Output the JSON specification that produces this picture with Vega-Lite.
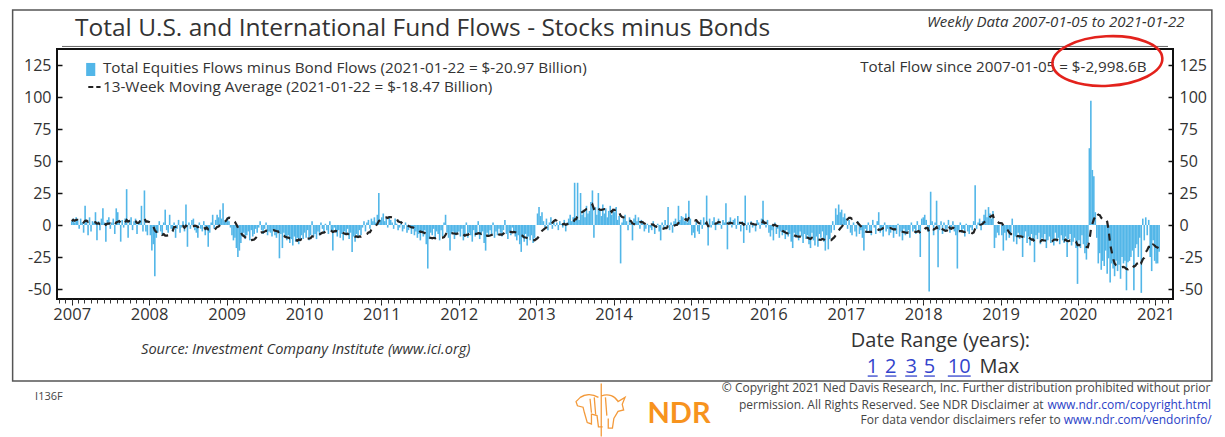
{
"$schema": "https://vega.github.io/schema/vega-lite/v6.json",
"width": 1116, "height": 250,
"autosize": {"type": "none"},
"padding": {"left": 57, "top": 49, "right": 52, "bottom": 138},
"background": "white",
"title": {"text": "Total U.S. and International Fund Flows - Stocks minus Bonds", "anchor": "start", "frame": "group", "dx": 18, "dy": 25, "offset": -26, "baseline": "alphabetic", "fontSize": 24.5, "font": "Open Sans", "fontWeight": "normal", "color": "#333"},
"config": {"view": {"stroke": "#111", "strokeWidth": 2}, "font": "Open Sans"},
"data": {"format": {"parse": {"d": "date:'%Y-%W'"}}, "values": [
{"d":"2007-1","f":3},{"d":"2007-2","f":5},{"d":"2007-3","f":2},{"d":"2007-4","f":6},{"d":"2007-5","f":4},{"d":"2007-6","f":-3},{"d":"2007-7","f":5},{"d":"2007-8","f":2},{"d":"2007-9","f":-6},{"d":"2007-10","f":15},{"d":"2007-11","f":4},{"d":"2007-12","f":-8},{"d":"2007-13","f":6},{"d":"2007-14","f":-5},{"d":"2007-15","f":3},{"d":"2007-16","f":2},{"d":"2007-17","f":10},{"d":"2007-18","f":-12},{"d":"2007-19","f":3},{"d":"2007-20","f":-4},{"d":"2007-21","f":5},{"d":"2007-22","f":13},{"d":"2007-23","f":2},{"d":"2007-24","f":-13},{"d":"2007-25","f":4},{"d":"2007-26","f":6},{"d":"2007-27","f":-3},{"d":"2007-28","f":2},{"d":"2007-29","f":5},{"d":"2007-30","f":-7},{"d":"2007-31","f":13},{"d":"2007-32","f":10},{"d":"2007-33","f":3},{"d":"2007-34","f":-13},{"d":"2007-35","f":4},{"d":"2007-36","f":-2},{"d":"2007-37","f":5},{"d":"2007-38","f":28},{"d":"2007-39","f":-10},{"d":"2007-40","f":4},{"d":"2007-41","f":6},{"d":"2007-42","f":-4},{"d":"2007-43","f":3},{"d":"2007-44","f":5},{"d":"2007-45","f":-7},{"d":"2007-46","f":2},{"d":"2007-47","f":4},{"d":"2007-48","f":15},{"d":"2007-49","f":-5},{"d":"2007-50","f":27},{"d":"2007-51","f":-5},{"d":"2007-52","f":-8},
{"d":"2008-1","f":-8},{"d":"2008-2","f":-20},{"d":"2008-3","f":-15},{"d":"2008-4","f":-40},{"d":"2008-5","f":-10},{"d":"2008-6","f":-6},{"d":"2008-7","f":3},{"d":"2008-8","f":-5},{"d":"2008-9","f":-8},{"d":"2008-10","f":2},{"d":"2008-11","f":12},{"d":"2008-12","f":-4},{"d":"2008-13","f":-6},{"d":"2008-14","f":8},{"d":"2008-15","f":-3},{"d":"2008-16","f":-5},{"d":"2008-17","f":2},{"d":"2008-18","f":-10},{"d":"2008-19","f":-3},{"d":"2008-20","f":4},{"d":"2008-21","f":-6},{"d":"2008-22","f":-2},{"d":"2008-23","f":3},{"d":"2008-24","f":-5},{"d":"2008-25","f":16},{"d":"2008-26","f":-17},{"d":"2008-27","f":2},{"d":"2008-28","f":-3},{"d":"2008-29","f":4},{"d":"2008-30","f":5},{"d":"2008-31","f":-4},{"d":"2008-32","f":-6},{"d":"2008-33","f":-10},{"d":"2008-34","f":2},{"d":"2008-35","f":-3},{"d":"2008-36","f":-5},{"d":"2008-37","f":3},{"d":"2008-38","f":-8},{"d":"2008-39","f":-4},{"d":"2008-40","f":-17},{"d":"2008-41","f":-6},{"d":"2008-42","f":2},{"d":"2008-43","f":8},{"d":"2008-44","f":-3},{"d":"2008-45","f":4},{"d":"2008-46","f":8},{"d":"2008-47","f":6},{"d":"2008-48","f":12},{"d":"2008-49","f":5},{"d":"2008-50","f":17},{"d":"2008-51","f":3},{"d":"2008-52","f":4},
{"d":"2009-1","f":6},{"d":"2009-2","f":3},{"d":"2009-3","f":-2},{"d":"2009-4","f":-8},{"d":"2009-5","f":-12},{"d":"2009-6","f":-10},{"d":"2009-7","f":-18},{"d":"2009-8","f":-25},{"d":"2009-9","f":-20},{"d":"2009-10","f":-14},{"d":"2009-11","f":-9},{"d":"2009-12","f":-6},{"d":"2009-13","f":-11},{"d":"2009-14","f":-8},{"d":"2009-15","f":-5},{"d":"2009-16","f":-12},{"d":"2009-17","f":-4},{"d":"2009-18","f":-9},{"d":"2009-19","f":-7},{"d":"2009-20","f":-3},{"d":"2009-21","f":-6},{"d":"2009-22","f":-2},{"d":"2009-23","f":3},{"d":"2009-24","f":-4},{"d":"2009-25","f":-7},{"d":"2009-26","f":-3},{"d":"2009-27","f":2},{"d":"2009-28","f":-8},{"d":"2009-29","f":-5},{"d":"2009-30","f":-6},{"d":"2009-31","f":-9},{"d":"2009-32","f":-4},{"d":"2009-33","f":-8},{"d":"2009-34","f":-10},{"d":"2009-35","f":-5},{"d":"2009-36","f":-26},{"d":"2009-37","f":-7},{"d":"2009-38","f":-18},{"d":"2009-39","f":-6},{"d":"2009-40","f":-9},{"d":"2009-41","f":-12},{"d":"2009-42","f":-8},{"d":"2009-43","f":-14},{"d":"2009-44","f":-11},{"d":"2009-45","f":-16},{"d":"2009-46","f":-9},{"d":"2009-47","f":-13},{"d":"2009-48","f":-10},{"d":"2009-49","f":-15},{"d":"2009-50","f":-12},{"d":"2009-51","f":-8},{"d":"2009-52","f":-11},
{"d":"2010-1","f":-6},{"d":"2010-2","f":-10},{"d":"2010-3","f":-4},{"d":"2010-4","f":-12},{"d":"2010-5","f":-8},{"d":"2010-6","f":3},{"d":"2010-7","f":-9},{"d":"2010-8","f":-7},{"d":"2010-9","f":-11},{"d":"2010-10","f":-5},{"d":"2010-11","f":-8},{"d":"2010-12","f":2},{"d":"2010-13","f":-3},{"d":"2010-14","f":-6},{"d":"2010-15","f":1},{"d":"2010-16","f":-4},{"d":"2010-17","f":-7},{"d":"2010-18","f":3},{"d":"2010-19","f":-5},{"d":"2010-20","f":-20},{"d":"2010-21","f":-2},{"d":"2010-22","f":-6},{"d":"2010-23","f":-9},{"d":"2010-24","f":-4},{"d":"2010-25","f":-10},{"d":"2010-26","f":-7},{"d":"2010-27","f":-12},{"d":"2010-28","f":-5},{"d":"2010-29","f":-8},{"d":"2010-30","f":-3},{"d":"2010-31","f":-11},{"d":"2010-32","f":-6},{"d":"2010-33","f":-21},{"d":"2010-34","f":-9},{"d":"2010-35","f":-13},{"d":"2010-36","f":-7},{"d":"2010-37","f":-10},{"d":"2010-38","f":-4},{"d":"2010-39","f":-8},{"d":"2010-40","f":-2},{"d":"2010-41","f":3},{"d":"2010-42","f":-5},{"d":"2010-43","f":2},{"d":"2010-44","f":4},{"d":"2010-45","f":-3},{"d":"2010-46","f":5},{"d":"2010-47","f":3},{"d":"2010-48","f":6},{"d":"2010-49","f":2},{"d":"2010-50","f":8},{"d":"2010-51","f":25},{"d":"2010-52","f":4},
{"d":"2011-1","f":6},{"d":"2011-2","f":9},{"d":"2011-3","f":3},{"d":"2011-4","f":5},{"d":"2011-5","f":-2},{"d":"2011-6","f":7},{"d":"2011-7","f":4},{"d":"2011-8","f":2},{"d":"2011-9","f":-3},{"d":"2011-10","f":5},{"d":"2011-11","f":1},{"d":"2011-12","f":-4},{"d":"2011-13","f":-2},{"d":"2011-14","f":3},{"d":"2011-15","f":-5},{"d":"2011-16","f":-3},{"d":"2011-17","f":2},{"d":"2011-18","f":-6},{"d":"2011-19","f":-4},{"d":"2011-20","f":-1},{"d":"2011-21","f":-7},{"d":"2011-22","f":-3},{"d":"2011-23","f":-8},{"d":"2011-24","f":-5},{"d":"2011-25","f":-10},{"d":"2011-26","f":-7},{"d":"2011-27","f":-12},{"d":"2011-28","f":-6},{"d":"2011-29","f":-9},{"d":"2011-30","f":-4},{"d":"2011-31","f":-15},{"d":"2011-32","f":-34},{"d":"2011-33","f":-11},{"d":"2011-34","f":-6},{"d":"2011-35","f":-8},{"d":"2011-36","f":-3},{"d":"2011-37","f":-10},{"d":"2011-38","f":-5},{"d":"2011-39","f":-7},{"d":"2011-40","f":-12},{"d":"2011-41","f":-4},{"d":"2011-42","f":-9},{"d":"2011-43","f":2},{"d":"2011-44","f":8},{"d":"2011-45","f":-6},{"d":"2011-46","f":-10},{"d":"2011-47","f":-20},{"d":"2011-48","f":-7},{"d":"2011-49","f":-5},{"d":"2011-50","f":-11},{"d":"2011-51","f":-8},{"d":"2011-52","f":-6},
{"d":"2012-1","f":-5},{"d":"2012-2","f":-9},{"d":"2012-3","f":-3},{"d":"2012-4","f":-12},{"d":"2012-5","f":-7},{"d":"2012-6","f":2},{"d":"2012-7","f":-10},{"d":"2012-8","f":-6},{"d":"2012-9","f":-8},{"d":"2012-10","f":-13},{"d":"2012-11","f":-4},{"d":"2012-12","f":-9},{"d":"2012-13","f":-7},{"d":"2012-14","f":3},{"d":"2012-15","f":-11},{"d":"2012-16","f":-8},{"d":"2012-17","f":-5},{"d":"2012-18","f":-14},{"d":"2012-19","f":-20},{"d":"2012-20","f":-6},{"d":"2012-21","f":-9},{"d":"2012-22","f":-4},{"d":"2012-23","f":-7},{"d":"2012-24","f":2},{"d":"2012-25","f":-10},{"d":"2012-26","f":-5},{"d":"2012-27","f":-8},{"d":"2012-28","f":-3},{"d":"2012-29","f":-6},{"d":"2012-30","f":-9},{"d":"2012-31","f":-4},{"d":"2012-32","f":4},{"d":"2012-33","f":-7},{"d":"2012-34","f":-11},{"d":"2012-35","f":-5},{"d":"2012-36","f":-8},{"d":"2012-37","f":-2},{"d":"2012-38","f":-6},{"d":"2012-39","f":-9},{"d":"2012-40","f":-12},{"d":"2012-41","f":-8},{"d":"2012-42","f":-15},{"d":"2012-43","f":-21},{"d":"2012-44","f":-10},{"d":"2012-45","f":-13},{"d":"2012-46","f":-7},{"d":"2012-47","f":-16},{"d":"2012-48","f":-9},{"d":"2012-49","f":-12},{"d":"2012-50","f":-8},{"d":"2012-51","f":-14},{"d":"2012-52","f":-10},
{"d":"2013-1","f":9},{"d":"2013-2","f":14},{"d":"2013-3","f":7},{"d":"2013-4","f":10},{"d":"2013-5","f":3},{"d":"2013-6","f":-2},{"d":"2013-7","f":5},{"d":"2013-8","f":-4},{"d":"2013-9","f":2},{"d":"2013-10","f":6},{"d":"2013-11","f":-3},{"d":"2013-12","f":4},{"d":"2013-13","f":-1},{"d":"2013-14","f":2},{"d":"2013-15","f":-4},{"d":"2013-16","f":3},{"d":"2013-17","f":1},{"d":"2013-18","f":-2},{"d":"2013-19","f":4},{"d":"2013-20","f":-5},{"d":"2013-21","f":2},{"d":"2013-22","f":5},{"d":"2013-23","f":8},{"d":"2013-24","f":3},{"d":"2013-25","f":6},{"d":"2013-26","f":33},{"d":"2013-27","f":5},{"d":"2013-28","f":33},{"d":"2013-29","f":4},{"d":"2013-30","f":25},{"d":"2013-31","f":8},{"d":"2013-32","f":12},{"d":"2013-33","f":6},{"d":"2013-34","f":15},{"d":"2013-35","f":9},{"d":"2013-36","f":11},{"d":"2013-37","f":18},{"d":"2013-38","f":27},{"d":"2013-39","f":-10},{"d":"2013-40","f":14},{"d":"2013-41","f":8},{"d":"2013-42","f":25},{"d":"2013-43","f":12},{"d":"2013-44","f":7},{"d":"2013-45","f":16},{"d":"2013-46","f":9},{"d":"2013-47","f":13},{"d":"2013-48","f":6},{"d":"2013-49","f":11},{"d":"2013-50","f":15},{"d":"2013-51","f":8},{"d":"2013-52","f":12},
{"d":"2014-1","f":10},{"d":"2014-2","f":14},{"d":"2014-3","f":4},{"d":"2014-4","f":7},{"d":"2014-5","f":-30},{"d":"2014-6","f":2},{"d":"2014-7","f":5},{"d":"2014-8","f":8},{"d":"2014-9","f":3},{"d":"2014-10","f":-4},{"d":"2014-11","f":6},{"d":"2014-12","f":2},{"d":"2014-13","f":-12},{"d":"2014-14","f":5},{"d":"2014-15","f":8},{"d":"2014-16","f":3},{"d":"2014-17","f":6},{"d":"2014-18","f":-3},{"d":"2014-19","f":4},{"d":"2014-20","f":2},{"d":"2014-21","f":-5},{"d":"2014-22","f":-3},{"d":"2014-23","f":1},{"d":"2014-24","f":-6},{"d":"2014-25","f":-2},{"d":"2014-26","f":-4},{"d":"2014-27","f":3},{"d":"2014-28","f":-7},{"d":"2014-29","f":-2},{"d":"2014-30","f":1},{"d":"2014-31","f":-5},{"d":"2014-32","f":-12},{"d":"2014-33","f":2},{"d":"2014-34","f":-3},{"d":"2014-35","f":4},{"d":"2014-36","f":-1},{"d":"2014-37","f":14},{"d":"2014-38","f":-4},{"d":"2014-39","f":2},{"d":"2014-40","f":-6},{"d":"2014-41","f":3},{"d":"2014-42","f":5},{"d":"2014-43","f":2},{"d":"2014-44","f":15},{"d":"2014-45","f":4},{"d":"2014-46","f":7},{"d":"2014-47","f":6},{"d":"2014-48","f":3},{"d":"2014-49","f":9},{"d":"2014-50","f":2},{"d":"2014-51","f":19},{"d":"2014-52","f":5},
{"d":"2015-1","f":-8},{"d":"2015-2","f":-6},{"d":"2015-3","f":-10},{"d":"2015-4","f":3},{"d":"2015-5","f":-5},{"d":"2015-6","f":-7},{"d":"2015-7","f":4},{"d":"2015-8","f":-3},{"d":"2015-9","f":6},{"d":"2015-10","f":2},{"d":"2015-11","f":23},{"d":"2015-12","f":-16},{"d":"2015-13","f":5},{"d":"2015-14","f":-2},{"d":"2015-15","f":3},{"d":"2015-16","f":6},{"d":"2015-17","f":-4},{"d":"2015-18","f":2},{"d":"2015-19","f":5},{"d":"2015-20","f":1},{"d":"2015-21","f":-3},{"d":"2015-22","f":4},{"d":"2015-23","f":2},{"d":"2015-24","f":17},{"d":"2015-25","f":-19},{"d":"2015-26","f":3},{"d":"2015-27","f":6},{"d":"2015-28","f":-2},{"d":"2015-29","f":4},{"d":"2015-30","f":5},{"d":"2015-31","f":-3},{"d":"2015-32","f":7},{"d":"2015-33","f":2},{"d":"2015-34","f":-5},{"d":"2015-35","f":3},{"d":"2015-36","f":-14},{"d":"2015-37","f":23},{"d":"2015-38","f":-4},{"d":"2015-39","f":2},{"d":"2015-40","f":-6},{"d":"2015-41","f":3},{"d":"2015-42","f":-2},{"d":"2015-43","f":1},{"d":"2015-44","f":-5},{"d":"2015-45","f":4},{"d":"2015-46","f":2},{"d":"2015-47","f":-3},{"d":"2015-48","f":5},{"d":"2015-49","f":19},{"d":"2015-50","f":3},{"d":"2015-51","f":-2},{"d":"2015-52","f":4},
{"d":"2016-1","f":-6},{"d":"2016-2","f":-9},{"d":"2016-3","f":-4},{"d":"2016-4","f":-12},{"d":"2016-5","f":2},{"d":"2016-6","f":-7},{"d":"2016-7","f":-3},{"d":"2016-8","f":-10},{"d":"2016-9","f":-5},{"d":"2016-10","f":-8},{"d":"2016-11","f":-6},{"d":"2016-12","f":-11},{"d":"2016-13","f":-4},{"d":"2016-14","f":-9},{"d":"2016-15","f":-7},{"d":"2016-16","f":-13},{"d":"2016-17","f":-18},{"d":"2016-18","f":-6},{"d":"2016-19","f":-10},{"d":"2016-20","f":-8},{"d":"2016-21","f":-12},{"d":"2016-22","f":-5},{"d":"2016-23","f":-9},{"d":"2016-24","f":-14},{"d":"2016-25","f":-7},{"d":"2016-26","f":-11},{"d":"2016-27","f":-8},{"d":"2016-28","f":-15},{"d":"2016-29","f":-18},{"d":"2016-30","f":-6},{"d":"2016-31","f":-12},{"d":"2016-32","f":-16},{"d":"2016-33","f":-9},{"d":"2016-34","f":-17},{"d":"2016-35","f":-7},{"d":"2016-36","f":-10},{"d":"2016-37","f":-5},{"d":"2016-38","f":-13},{"d":"2016-39","f":-20},{"d":"2016-40","f":-8},{"d":"2016-41","f":-19},{"d":"2016-42","f":-11},{"d":"2016-43","f":-6},{"d":"2016-44","f":3},{"d":"2016-45","f":-4},{"d":"2016-46","f":13},{"d":"2016-47","f":8},{"d":"2016-48","f":16},{"d":"2016-49","f":10},{"d":"2016-50","f":12},{"d":"2016-51","f":6},{"d":"2016-52","f":9},
{"d":"2017-1","f":5},{"d":"2017-2","f":-3},{"d":"2017-3","f":4},{"d":"2017-4","f":-6},{"d":"2017-5","f":-8},{"d":"2017-6","f":2},{"d":"2017-7","f":-5},{"d":"2017-8","f":-9},{"d":"2017-9","f":3},{"d":"2017-10","f":-7},{"d":"2017-11","f":-4},{"d":"2017-12","f":-10},{"d":"2017-13","f":-20},{"d":"2017-14","f":-3},{"d":"2017-15","f":-6},{"d":"2017-16","f":2},{"d":"2017-17","f":-5},{"d":"2017-18","f":-8},{"d":"2017-19","f":4},{"d":"2017-20","f":-2},{"d":"2017-21","f":-7},{"d":"2017-22","f":3},{"d":"2017-23","f":10},{"d":"2017-24","f":-6},{"d":"2017-25","f":-4},{"d":"2017-26","f":-9},{"d":"2017-27","f":2},{"d":"2017-28","f":-5},{"d":"2017-29","f":-3},{"d":"2017-30","f":-8},{"d":"2017-31","f":-6},{"d":"2017-32","f":-2},{"d":"2017-33","f":-10},{"d":"2017-34","f":-4},{"d":"2017-35","f":-7},{"d":"2017-36","f":1},{"d":"2017-37","f":-9},{"d":"2017-38","f":-5},{"d":"2017-39","f":-12},{"d":"2017-40","f":-3},{"d":"2017-41","f":-8},{"d":"2017-42","f":-6},{"d":"2017-43","f":-4},{"d":"2017-44","f":-10},{"d":"2017-45","f":2},{"d":"2017-46","f":-5},{"d":"2017-47","f":-3},{"d":"2017-48","f":-7},{"d":"2017-49","f":3},{"d":"2017-50","f":-4},{"d":"2017-51","f":-25},{"d":"2017-52","f":5},
{"d":"2018-1","f":6},{"d":"2018-2","f":8},{"d":"2018-3","f":4},{"d":"2018-4","f":-5},{"d":"2018-5","f":-52},{"d":"2018-6","f":26},{"d":"2018-7","f":3},{"d":"2018-8","f":-8},{"d":"2018-9","f":2},{"d":"2018-10","f":19},{"d":"2018-11","f":-33},{"d":"2018-12","f":-4},{"d":"2018-13","f":3},{"d":"2018-14","f":-7},{"d":"2018-15","f":2},{"d":"2018-16","f":-5},{"d":"2018-17","f":-3},{"d":"2018-18","f":4},{"d":"2018-19","f":-6},{"d":"2018-20","f":-2},{"d":"2018-21","f":3},{"d":"2018-22","f":-5},{"d":"2018-23","f":-8},{"d":"2018-24","f":-34},{"d":"2018-25","f":-4},{"d":"2018-26","f":2},{"d":"2018-27","f":-6},{"d":"2018-28","f":-3},{"d":"2018-29","f":-9},{"d":"2018-30","f":1},{"d":"2018-31","f":-5},{"d":"2018-32","f":-7},{"d":"2018-33","f":-2},{"d":"2018-34","f":-4},{"d":"2018-35","f":3},{"d":"2018-36","f":31},{"d":"2018-37","f":-3},{"d":"2018-38","f":2},{"d":"2018-39","f":5},{"d":"2018-40","f":-4},{"d":"2018-41","f":3},{"d":"2018-42","f":8},{"d":"2018-43","f":12},{"d":"2018-44","f":6},{"d":"2018-45","f":14},{"d":"2018-46","f":9},{"d":"2018-47","f":5},{"d":"2018-48","f":11},{"d":"2018-49","f":-18},{"d":"2018-50","f":-10},{"d":"2018-51","f":-6},{"d":"2018-52","f":-8},
{"d":"2019-1","f":-8},{"d":"2019-2","f":-20},{"d":"2019-3","f":-6},{"d":"2019-4","f":-12},{"d":"2019-5","f":-4},{"d":"2019-6","f":-10},{"d":"2019-7","f":-7},{"d":"2019-8","f":5},{"d":"2019-9","f":-13},{"d":"2019-10","f":-9},{"d":"2019-11","f":-15},{"d":"2019-12","f":-6},{"d":"2019-13","f":-11},{"d":"2019-14","f":-8},{"d":"2019-15","f":-25},{"d":"2019-16","f":-10},{"d":"2019-17","f":-5},{"d":"2019-18","f":-14},{"d":"2019-19","f":-9},{"d":"2019-20","f":-16},{"d":"2019-21","f":-7},{"d":"2019-22","f":-12},{"d":"2019-23","f":-29},{"d":"2019-24","f":-8},{"d":"2019-25","f":-11},{"d":"2019-26","f":-6},{"d":"2019-27","f":-15},{"d":"2019-28","f":-10},{"d":"2019-29","f":-13},{"d":"2019-30","f":-7},{"d":"2019-31","f":-18},{"d":"2019-32","f":-12},{"d":"2019-33","f":-9},{"d":"2019-34","f":-14},{"d":"2019-35","f":-11},{"d":"2019-36","f":-16},{"d":"2019-37","f":-6},{"d":"2019-38","f":-13},{"d":"2019-39","f":-10},{"d":"2019-40","f":-15},{"d":"2019-41","f":-8},{"d":"2019-42","f":-12},{"d":"2019-43","f":-14},{"d":"2019-44","f":-9},{"d":"2019-45","f":-25},{"d":"2019-46","f":-11},{"d":"2019-47","f":-7},{"d":"2019-48","f":-16},{"d":"2019-49","f":-13},{"d":"2019-50","f":-10},{"d":"2019-51","f":-18},{"d":"2019-52","f":-46},
{"d":"2020-1","f":-12},{"d":"2020-2","f":-18},{"d":"2020-3","f":-8},{"d":"2020-4","f":-15},{"d":"2020-5","f":-22},{"d":"2020-6","f":-27},{"d":"2020-7","f":-14},{"d":"2020-8","f":60},{"d":"2020-9","f":97},{"d":"2020-10","f":43},{"d":"2020-11","f":38},{"d":"2020-12","f":10},{"d":"2020-13","f":-10},{"d":"2020-14","f":-30},{"d":"2020-15","f":-22},{"d":"2020-16","f":-35},{"d":"2020-17","f":-28},{"d":"2020-18","f":-32},{"d":"2020-19","f":-20},{"d":"2020-20","f":-38},{"d":"2020-21","f":-26},{"d":"2020-22","f":-45},{"d":"2020-23","f":-30},{"d":"2020-24","f":-34},{"d":"2020-25","f":-40},{"d":"2020-26","f":-28},{"d":"2020-27","f":-36},{"d":"2020-28","f":-31},{"d":"2020-29","f":-42},{"d":"2020-30","f":-25},{"d":"2020-31","f":-30},{"d":"2020-32","f":-28},{"d":"2020-33","f":-51},{"d":"2020-34","f":-29},{"d":"2020-35","f":-28},{"d":"2020-36","f":-25},{"d":"2020-37","f":-20},{"d":"2020-38","f":-51},{"d":"2020-39","f":-18},{"d":"2020-40","f":-15},{"d":"2020-41","f":-25},{"d":"2020-42","f":-10},{"d":"2020-43","f":-53},{"d":"2020-44","f":5},{"d":"2020-45","f":-12},{"d":"2020-46","f":6},{"d":"2020-47","f":-8},{"d":"2020-48","f":4},{"d":"2020-49","f":-25},{"d":"2020-50","f":-36},{"d":"2020-51","f":-12},{"d":"2020-52","f":-28},
{"d":"2021-1","f":-30},{"d":"2021-2","f":-30},{"d":"2021-3","f":-20.97}
]},
"resolve": {"axis": {"x": "independent", "y": "independent"}},
"layer": [
{"mark": {"type": "bar", "width": 1.6, "color": "#52b6e8"},
 "encoding": {
  "x": {"field": "d", "type": "temporal",
        "scale": {"domain": [{"year": 2006, "month": 11, "date": 16}, {"year": 2021, "month": 3, "date": 1}], "nice": false},
        "axis": {"orient": "bottom", "values": [{"year":2007},{"year":2008},{"year":2009},{"year":2010},{"year":2011},{"year":2012},{"year":2013},{"year":2014},{"year":2015},{"year":2016},{"year":2017},{"year":2018},{"year":2019},{"year":2020},{"year":2021}],
                 "format": "%Y", "labelFontSize": 16.5, "labelColor": "#333", "tickSize": 6, "tickColor": "#222", "labelPadding": 1, "domain": false, "grid": false, "title": null, "labelOverlap": false, "labelFlush": false}},
  "y": {"field": "f", "type": "quantitative",
        "scale": {"domain": [-57.8, 137.5], "nice": false, "zero": false},
        "axis": {"orient": "left", "values": [-50, -25, 0, 25, 50, 75, 100, 125], "labelExpr": "'' + datum.value", "tickSize": -5, "tickWidth": 1.5, "tickColor": "#111", "labelPadding": 11, "labelFontSize": 16, "labelColor": "#333", "domain": false, "grid": false, "title": null}},
  "y2": {"datum": 0}
 }},
{"transform": [{"window": [{"op": "mean", "field": "f", "as": "m"}], "frame": [-12, 0], "sort": [{"field": "d", "order": "ascending"}]}],
 "mark": {"type": "line", "color": "#222", "strokeWidth": 2.2, "strokeDash": [7, 6]},
 "encoding": {
  "x": {"field": "d", "type": "temporal",
        "axis": {"orient": "bottom", "tickCount": {"interval": "month", "step": 1}, "labels": false, "domain": false, "grid": false, "tickSize": 4, "tickColor": "#333", "title": null}},
  "y": {"field": "m", "type": "quantitative",
        "axis": {"orient": "right", "values": [-50, -25, 0, 25, 50, 75, 100, 125], "labelExpr": "'' + datum.value", "tickSize": -5, "tickWidth": 1.5, "tickColor": "#111", "labelPadding": 11, "labelFontSize": 16, "labelColor": "#333", "domain": false, "grid": false, "title": null}}
 }},
{"data": {"values": [{}]},
 "mark": {"type": "rule", "color": "#666", "strokeWidth": 1},
 "encoding": {"x": {"datum": {"year": 2006, "month": 11, "date": 16}, "type": "temporal", "axis": null}, "x2": {"datum": {"year": 2021, "month": 3, "date": 1}}, "y": {"datum": 139.5, "type": "quantitative", "axis": null}}},
{"data": {"values": [{}]},
 "mark": {"type": "rect", "fill": null, "fillOpacity": 0, "stroke": "#555", "strokeWidth": 1.5},
 "encoding": {"x": {"datum": {"year": 2006, "month": 3, "date": 28}, "type": "temporal", "axis": null}, "x2": {"datum": {"year": 2021, "month": 9, "date": 24}}, "y": {"datum": 168, "type": "quantitative", "axis": null}, "y2": {"datum": -121.9}}},
{"data": {"values": [{}]},
 "mark": {"type": "text", "text": "Weekly Data 2007-01-05 to 2021-01-22", "align": "right", "baseline": "alphabetic", "fontSize": 15, "fontStyle": "italic", "color": "#333"},
 "encoding": {"x": {"datum": {"year": 2021, "month": 5, "date": 18}, "type": "temporal", "axis": null}, "y": {"datum": 154.7, "type": "quantitative", "axis": null}}},
{"data": {"values": [{}]},
 "mark": {"type": "rect", "color": "#52b6e8"},
 "encoding": {"x": {"datum": {"year": 2007, "month": 3, "date": 10}, "type": "temporal", "axis": null}, "x2": {"datum": {"year": 2007, "month": 4, "date": 22}}, "y": {"datum": 126.6, "type": "quantitative", "axis": null}, "y2": {"datum": 116.4}}},
{"data": {"values": [{}]},
 "mark": {"type": "text", "text": "Total Equities Flows minus Bond Flows (2021-01-22 = $-20.97 Billion)", "align": "left", "baseline": "alphabetic", "fontSize": 15.3, "color": "#333"},
 "encoding": {"x": {"datum": {"year": 2007, "month": 5, "date": 28}, "type": "temporal", "axis": null}, "y": {"datum": 118.4, "type": "quantitative", "axis": null}}},
{"data": {"values": [{}]},
 "mark": {"type": "rule", "color": "#222", "strokeWidth": 2, "strokeDash": [5, 3]},
 "encoding": {"x": {"datum": {"year": 2007, "month": 3, "date": 20}, "type": "temporal", "axis": null}, "x2": {"datum": {"year": 2007, "month": 5, "date": 17}}, "y": {"datum": 107.8, "type": "quantitative", "axis": null}}},
{"data": {"values": [{}]},
 "mark": {"type": "text", "text": "13-Week Moving Average (2021-01-22 = $-18.47 Billion)", "align": "left", "baseline": "alphabetic", "fontSize": 15.3, "color": "#333"},
 "encoding": {"x": {"datum": {"year": 2007, "month": 5, "date": 28}, "type": "temporal", "axis": null}, "y": {"datum": 103.9, "type": "quantitative", "axis": null}}},
{"data": {"values": [{}]},
 "mark": {"type": "text", "text": "Total Flow since 2007-01-05 = $-2,998.6B", "align": "right", "baseline": "alphabetic", "fontSize": 15.2, "color": "#333"},
 "encoding": {"x": {"datum": {"year": 2020, "month": 11, "date": 20}, "type": "temporal", "axis": null}, "y": {"datum": 119.8, "type": "quantitative", "axis": null}}},
{"data": {"values": [{}]},
 "mark": {"type": "point", "shape": "M-1,0C-1,-0.2485,-0.5523,-0.45,0,-0.45C0.5523,-0.45,1,-0.2485,1,0C1,0.2485,0.5523,0.45,0,0.45C-0.5523,0.45,-1,0.2485,-1,0Z", "size": 12100, "filled": false, "color": "#e3221c", "strokeWidth": 2.6, "opacity": 1, "angle": -3},
 "encoding": {"x": {"datum": {"year": 2020, "month": 5, "date": 19}, "type": "temporal", "axis": null}, "y": {"datum": 128.1, "type": "quantitative", "axis": null}}},
{"data": {"values": [{}]},
 "mark": {"type": "text", "text": "Source: Investment Company Institute (www.ici.org)", "align": "left", "baseline": "alphabetic", "fontSize": 14.6, "fontStyle": "italic", "color": "#333"},
 "encoding": {"x": {"datum": {"year": 2007, "month": 11, "date": 24}, "type": "temporal", "axis": null}, "y": {"datum": -100.8, "type": "quantitative", "axis": null}}},
{"data": {"values": [{}]},
 "mark": {"type": "text", "text": "Date Range (years):", "align": "left", "baseline": "alphabetic", "fontSize": 20, "color": "#333"},
 "encoding": {"x": {"datum": {"year": 2017, "month": 1, "date": 24}, "type": "temporal", "axis": null}, "y": {"datum": -95.1, "type": "quantitative", "axis": null}}},
{"data": {"values": [{}]},
 "mark": {"type": "text", "text": "1", "align": "center", "baseline": "alphabetic", "fontSize": 20, "color": "#3344cc"},
 "encoding": {"x": {"datum": {"year": 2017, "month": 5, "date": 7}, "type": "temporal", "axis": null}, "y": {"datum": -115.6, "type": "quantitative", "axis": null}}},
{"data": {"values": [{}]},
 "mark": {"type": "text", "text": "2", "align": "center", "baseline": "alphabetic", "fontSize": 20, "color": "#3344cc"},
 "encoding": {"x": {"datum": {"year": 2017, "month": 8, "date": 1}, "type": "temporal", "axis": null}, "y": {"datum": -115.6, "type": "quantitative", "axis": null}}},
{"data": {"values": [{}]},
 "mark": {"type": "text", "text": "3", "align": "center", "baseline": "alphabetic", "fontSize": 20, "color": "#3344cc"},
 "encoding": {"x": {"datum": {"year": 2017, "month": 11, "date": 5}, "type": "temporal", "axis": null}, "y": {"datum": -115.6, "type": "quantitative", "axis": null}}},
{"data": {"values": [{}]},
 "mark": {"type": "text", "text": "5", "align": "center", "baseline": "alphabetic", "fontSize": 20, "color": "#3344cc"},
 "encoding": {"x": {"datum": {"year": 2018, "month": 1, "date": 31}, "type": "temporal", "axis": null}, "y": {"datum": -115.6, "type": "quantitative", "axis": null}}},
{"data": {"values": [{}]},
 "mark": {"type": "text", "text": "10", "align": "center", "baseline": "alphabetic", "fontSize": 20, "color": "#3344cc"},
 "encoding": {"x": {"datum": {"year": 2018, "month": 6, "date": 20}, "type": "temporal", "axis": null}, "y": {"datum": -115.6, "type": "quantitative", "axis": null}}},
{"data": {"values": [{}]},
 "mark": {"type": "text", "text": "Max", "align": "left", "baseline": "alphabetic", "fontSize": 20, "color": "#333"},
 "encoding": {"x": {"datum": {"year": 2018, "month": 9, "date": 24}, "type": "temporal", "axis": null}, "y": {"datum": -115.6, "type": "quantitative", "axis": null}}},
{"data": {"values": [{}]},
 "mark": {"type": "rule", "color": "#3344cc", "strokeWidth": 1.3},
 "encoding": {"x": {"datum": {"year": 2017, "month": 4, "date": 14}, "type": "temporal", "axis": null}, "x2": {"datum": {"year": 2017, "month": 5, "date": 31}}, "y": {"datum": -118, "type": "quantitative", "axis": null}}},
{"data": {"values": [{}]},
 "mark": {"type": "rule", "color": "#3344cc", "strokeWidth": 1.3},
 "encoding": {"x": {"datum": {"year": 2017, "month": 7, "date": 6}, "type": "temporal", "axis": null}, "x2": {"datum": {"year": 2017, "month": 8, "date": 27}}, "y": {"datum": -118, "type": "quantitative", "axis": null}}},
{"data": {"values": [{}]},
 "mark": {"type": "rule", "color": "#3344cc", "strokeWidth": 1.3},
 "encoding": {"x": {"datum": {"year": 2017, "month": 10, "date": 8}, "type": "temporal", "axis": null}, "x2": {"datum": {"year": 2017, "month": 12, "date": 3}}, "y": {"datum": -118, "type": "quantitative", "axis": null}}},
{"data": {"values": [{}]},
 "mark": {"type": "rule", "color": "#3344cc", "strokeWidth": 1.3},
 "encoding": {"x": {"datum": {"year": 2018, "month": 1, "date": 5}, "type": "temporal", "axis": null}, "x2": {"datum": {"year": 2018, "month": 2, "date": 25}}, "y": {"datum": -118, "type": "quantitative", "axis": null}}},
{"data": {"values": [{}]},
 "mark": {"type": "rule", "color": "#3344cc", "strokeWidth": 1.3},
 "encoding": {"x": {"datum": {"year": 2018, "month": 4, "date": 27}, "type": "temporal", "axis": null}, "x2": {"datum": {"year": 2018, "month": 8, "date": 13}}, "y": {"datum": -118, "type": "quantitative", "axis": null}}},
{"data": {"values": [{}]},
 "mark": {"type": "text", "text": "I136F", "align": "left", "baseline": "alphabetic", "fontSize": 11, "color": "#444"},
 "encoding": {"x": {"datum": {"year": 2006, "month": 7, "date": 12}, "type": "temporal", "axis": null}, "y": {"datum": -136.7, "type": "quantitative", "axis": null}}},
{"data": {"values": [{}]},
 "mark": {"type": "point", "shape": "M0.05,-0.95L0.05,0.95M-0.05,-0.45C-0.3,-0.6,-0.55,-0.55,-0.7,-0.45L-0.85,-0.3L-0.8,-0.15L-0.6,-0.1L-0.55,0.1L-0.45,0.45L-0.3,0.5L-0.3,0.15L-0.1,0.2L-0.05,0.6L0.1,0.6M0.05,-0.5C0.3,-0.6,0.55,-0.5,0.65,-0.3L0.9,-0.45L0.8,-0.2L0.85,0L0.65,0.05L0.5,0.3L0.45,0.65L0.3,0.65L0.3,0.3M-0.35,-0.4L-0.3,0.1M-0.2,-0.45L-0.15,0.15M0.2,-0.45L0.25,0.2", "size": 3136, "filled": false, "color": "#f39a3b", "strokeWidth": 1.3, "opacity": 1},
 "encoding": {"x": {"datum": {"year": 2013, "month": 10, "date": 28}, "type": "temporal", "axis": null}, "y": {"datum": -144.5, "type": "quantitative", "axis": null}}},
{"data": {"values": [{}]},
 "mark": {"type": "text", "text": "NDR", "align": "left", "baseline": "alphabetic", "fontSize": 29, "font": "Lato", "fontWeight": "bold", "color": "#f7931e"},
 "encoding": {"x": {"datum": {"year": 2014, "month": 6, "date": 10}, "type": "temporal", "axis": null}, "y": {"datum": -154.4, "type": "quantitative", "axis": null}}},
{"data": {"values": [{}]},
 "mark": {"type": "text", "text": "© Copyright 2021 Ned Davis Research, Inc. Further distribution prohibited without prior", "align": "right", "baseline": "alphabetic", "fontSize": 12, "color": "#444"},
 "encoding": {"x": {"datum": {"year": 2021, "month": 9, "date": 17}, "type": "temporal", "axis": null}, "y": {"datum": -130.5, "type": "quantitative", "axis": null}}},
{"data": {"values": [{}]},
 "mark": {"type": "text", "text": "permission. All Rights Reserved. See NDR Disclaimer at", "align": "right", "baseline": "alphabetic", "fontSize": 12, "color": "#444"},
 "encoding": {"x": {"datum": {"year": 2019, "month": 7, "date": 23}, "type": "temporal", "axis": null}, "y": {"datum": -143.8, "type": "quantitative", "axis": null}}},
{"data": {"values": [{}]},
 "mark": {"type": "text", "text": "www.ndr.com/copyright.html", "align": "left", "baseline": "alphabetic", "fontSize": 12, "color": "#2a3fc7"},
 "encoding": {"x": {"datum": {"year": 2019, "month": 8, "date": 10}, "type": "temporal", "axis": null}, "y": {"datum": -143.8, "type": "quantitative", "axis": null}}},
{"data": {"values": [{}]},
 "mark": {"type": "text", "text": "For data vendor disclaimers refer to", "align": "right", "baseline": "alphabetic", "fontSize": 12, "color": "#444"},
 "encoding": {"x": {"datum": {"year": 2019, "month": 10, "date": 12}, "type": "temporal", "axis": null}, "y": {"datum": -155.5, "type": "quantitative", "axis": null}}},
{"data": {"values": [{}]},
 "mark": {"type": "text", "text": "www.ndr.com/vendorinfo/", "align": "left", "baseline": "alphabetic", "fontSize": 12, "color": "#2a3fc7"},
 "encoding": {"x": {"datum": {"year": 2019, "month": 10, "date": 26}, "type": "temporal", "axis": null}, "y": {"datum": -155.5, "type": "quantitative", "axis": null}}}
]
}
